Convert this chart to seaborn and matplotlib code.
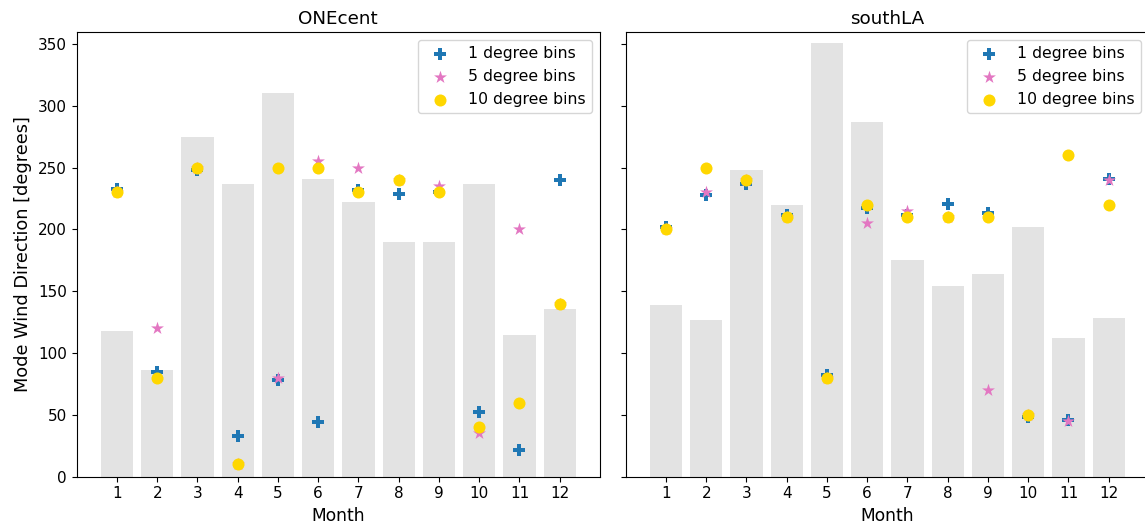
import matplotlib
matplotlib.use("Agg")
import matplotlib.pyplot as plt
import seaborn as sns
import numpy as np
import pandas as pd

months = list(range(1, 13))
sites = ["ONEcent", "southLA"]
bin_labels = ["1 degree bins", "5 degree bins", "10 degree bins"]

# grey background bars per site
bars_onecent = [118, 86, 275, 237, 310, 241, 222, 190, 190, 237, 115, 136]
bars_southla = [139, 127, 248, 220, 351, 287, 175, 154, 164, 202, 112, 128]

# modal wind direction per month for each bin width
onecent_1deg = [233, 85, 248, 33, 78, 44, 232, 229, 230, 52, 22, 240]
onecent_5deg = [230, 120, 250, 10, 80, 255, 250, 240, 235, 35, 200, 140]
onecent_10deg = [230, 80, 250, 10, 250, 250, 230, 240, 230, 40, 60, 140]

southla_1deg = [202, 228, 237, 212, 82, 217, 212, 221, 213, 48, 46, 241]
southla_5deg = [200, 230, 240, 210, 80, 205, 215, 210, 70, 50, 45, 240]
southla_10deg = [200, 250, 240, 210, 80, 220, 210, 210, 210, 50, 260, 220]

bar_data = {"ONEcent": bars_onecent, "southLA": bars_southla}
point_data = {
    "ONEcent": [onecent_1deg, onecent_5deg, onecent_10deg],
    "southLA": [southla_1deg, southla_5deg, southla_10deg],
}

colors = ["#1f77b4", "#e377c2", "#ffd700"]
markers = ["P", "*", "o"]
sizes = [75, 95, 75]

plt.rcParams["font.family"] = ["DejaVu Sans"]

fig = plt.figure(figsize=(11.45, 5.3), dpi=100)
ax_w = 523.3 / 1145
ax_h = 444.4 / 530
ax_b = (530 - 476.7) / 530
ax1 = fig.add_axes([76.7 / 1145, ax_b, ax_w, ax_h])
ax2 = fig.add_axes([625.7 / 1145, ax_b, ax_w, ax_h], sharey=ax1)

for ax, site in zip([ax1, ax2], sites):
    df_bar = pd.DataFrame({"Month": months, "count": bar_data[site]})
    sns.barplot(data=df_bar, x="Month", y="count", native_scale=True,
                color="#e3e3e3", saturation=1, width=0.8, linewidth=0, ax=ax)
    for vals, lab, col, mk, sz in zip(point_data[site], bin_labels, colors, markers, sizes):
        df_pt = pd.DataFrame({"Month": months, "dir": vals})
        sns.scatterplot(data=df_pt, x="Month", y="dir", color=col, marker=mk,
                        s=sz, linewidth=0, label=lab, ax=ax)
    ax.set_xlim(0, 13)
    ax.set_xticks(months)
    ax.set_title(site, fontsize=13.2)
    ax.set_xlabel("Month", fontsize=12.3)
    ax.tick_params(labelsize=11)
    ax.legend(loc="upper right", fontsize=11.3)

ax1.set_ylim(0, 359.5)
ax1.set_yticks(np.arange(0, 351, 50))
ax1.set_ylabel("Mode Wind Direction [degrees]", fontsize=12.8)
ax2.set_ylabel("")
ax2.tick_params(labelleft=False)

fig.savefig("out.png", dpi=100)
